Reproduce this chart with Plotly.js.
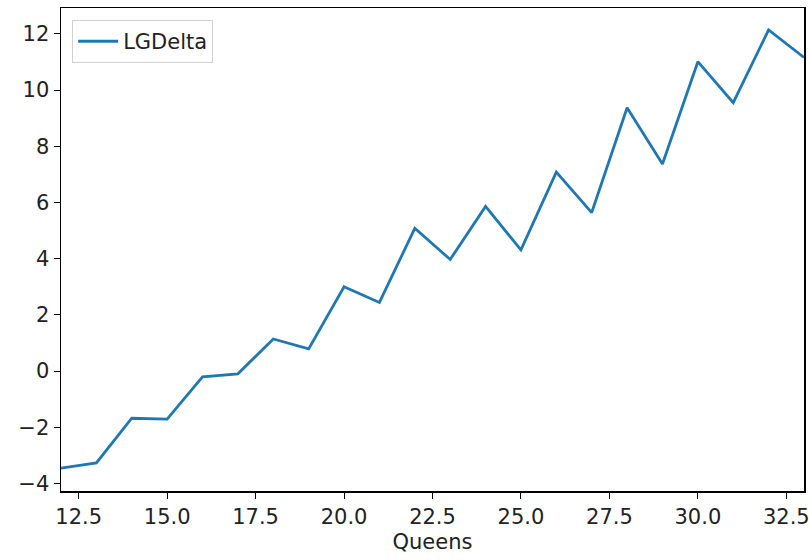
<!DOCTYPE html>
<html>
<head>
<meta charset="utf-8">
<script src="https://cdn.plot.ly/plotly-3.0.1.min.js"></script>
<style>html,body{margin:0;padding:0;background:#fff;}#chart{width:809px;height:560px;}</style>
</head>
<body>
<div id="chart"></div>
<script>
const queens = [12,13,14,15,16,17,18,19,20,21,22,23,24,25,26,27,28,29,30,31,32,33];
const lgDelta = [-3.46,-3.27,-1.68,-1.71,-0.21,-0.10,1.14,0.79,3.00,2.44,5.08,3.97,5.86,4.31,7.08,5.64,9.37,7.37,11.01,9.55,12.14,11.16];
const seriesName = "LGDelta";
const xTitle = "Queens";

const font = {family: "DejaVu Sans, sans-serif", size: 21, color: "#222"};
const trace = {
  x: queens, y: lgDelta, type: "scatter", mode: "lines", name: seriesName,
  line: {color: "#1f77b4", width: 2.8}
};
const layout = {
  width: 809, height: 560,
  margin: {l: 61, r: 5, t: 8, b: 69},
  paper_bgcolor: "#fff", plot_bgcolor: "#fff",
  font: font,
  showlegend: true,
  legend: {x: 0.015, y: 0.975, xanchor: "left", yanchor: "top",
    bordercolor: "#d0d0d0", borderwidth: 1, bgcolor: "rgba(255,255,255,0.8)",
    font: font, itemwidth: 40, entrywidth: 165, entrywidthmode: "pixels"},
  xaxis: {
    range: [12, 33], tick0: 12.5, dtick: 2.5, tickformat: ".1f",
    showgrid: false, zeroline: false, showline: true, mirror: true,
    linecolor: "#000", linewidth: 1.5, ticks: "outside", ticklen: 6, tickcolor: "#000",
    tickfont: font, ticklabeloverflow: "allow",
    title: {text: xTitle, font: font, standoff: 6}
  },
  yaxis: {
    range: [-4.27, 12.92], tick0: 0, dtick: 2,
    showgrid: false, zeroline: false, showline: true, mirror: true,
    linecolor: "#000", linewidth: 1.5, ticks: "outside", ticklen: 6, tickcolor: "#000",
    tickfont: font
  }
};
Plotly.newPlot("chart", [trace], layout, {displayModeBar: false, staticPlot: true});
</script>
</body>
</html>
